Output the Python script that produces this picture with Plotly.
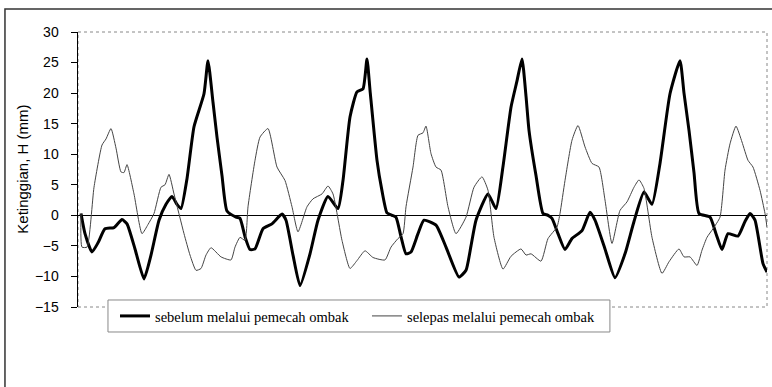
import plotly.graph_objects as go

# time axis (arbitrary units along the record)
t_sebelum = [3, 7, 14, 20, 27, 36, 44, 49, 57, 66, 73, 81, 88, 94, 99, 103, 109, 116, 126, 130, 135, 139, 144, 149,
             158, 162, 167, 172, 177, 185, 194, 204, 208, 215, 222, 232, 240, 250, 260, 265, 272, 279, 285, 289, 292,
             299, 304, 309, 314, 318, 323, 328, 333, 340, 346, 358, 368, 381, 388, 393, 398, 410, 418, 425, 433, 439,
             444, 448, 451, 458, 465, 470, 474, 480, 487, 494, 504, 512, 517, 527, 537, 547, 556, 566, 574, 582, 592,
             602, 606, 611, 616, 621, 632, 638, 644, 650, 660, 667, 672, 677, 685, 689]
h_sebelum = [0.3, -3.0, -6.0, -4.5, -2.2, -2.0, -0.7, -1.4, -5.5, -10.4, -6.5, -0.8, 1.8, 3.1, 1.8, 1.1, 6.0, 14.5,
             19.9, 25.3, 18.5, 12.8, 6.5, 0.7, -0.3, -0.5, -3.5, -5.6, -5.5, -2.2, -1.4, 0.2, -0.8, -6.5, -11.5, -6.3,
             -0.8, 3.1, 1.1, 5.7, 16.1, 20.2, 20.7, 25.6, 20.5, 9.0, 4.0, 0.4, 0.0, -0.3, -3.5, -6.3, -6.0, -3.0, -0.8,
             -1.6, -5.2, -10.1, -9.0, -5.0, -0.8, 3.5, 1.1, 8.0, 17.7, 22.0, 25.6, 19.5, 13.9, 6.5, 0.3, 0.0, -0.5,
             -3.0, -5.6, -3.8, -2.5, 0.5, -0.8, -5.5, -10.2, -6.3, -1.0, 3.8, 1.8, 8.5, 19.9, 25.3, 20.0, 13.9, 7.0,
             0.3, -0.3, -3.0, -5.6, -3.0, -3.4, -1.0, 0.3, -0.8, -7.9, -9.3]

t_selepas = [3, 4, 9, 16, 24, 28, 33, 38, 43, 46, 49, 56, 64, 70, 76, 83, 87, 91, 96, 106, 112, 118, 123, 128, 133,
             143, 153, 157, 162, 167, 170, 177, 182, 190, 199, 207, 214, 220, 229, 235, 244, 250, 255, 264, 272, 279,
             287, 295, 307, 313, 320, 325, 328, 335, 340, 345, 348, 353, 358, 363, 370, 378, 388, 396, 404, 410, 416,
             425, 433, 443, 448, 453, 463, 470, 479, 482, 487, 494, 500, 507, 514, 521, 527, 534, 542, 549, 556, 561,
             566, 574, 584, 591, 601, 606, 612, 619, 624, 629, 635, 642, 647, 652, 658, 664, 670, 675, 682, 687, 689]
h_selepas = [0.3, -5.2, -5.2, 4.6, 11.5, 12.5, 14.2, 11.0, 7.1, 7.0, 8.3, 3.5, -3.0, -1.5, 0.3, 4.6, 5.0, 6.7, 3.5,
             -3.0, -6.5, -9.0, -8.7, -6.5, -5.3, -6.8, -7.3, -5.2, -3.6, -4.1, 1.4, 9.0, 12.8, 14.2, 7.9, 5.7, 1.4,
             -2.7, 1.4, 2.7, 3.5, 4.8, 3.5, -4.1, -8.7, -7.4, -5.8, -6.9, -7.3, -5.2, -3.8, -3.0, 1.4, 7.9, 13.1,
             13.5, 14.6, 10.1, 7.9, 7.4, 1.4, -3.0, -0.3, 4.6, 6.3, 4.1, -3.6, -8.8, -6.7, -5.5, -6.5, -6.3, -7.5,
             -3.8, -1.9, 0.3, 5.7, 12.3, 14.7, 11.2, 8.5, 7.9, 2.5, -4.6, 0.8, 2.2, 4.6, 5.8, 4.4, -3.6, -9.5, -7.6,
             -5.5, -6.8, -6.8, -8.2, -5.7, -3.6, -2.2, -0.3, 7.4, 11.7, 14.6, 12.0, 9.0, 7.9, 4.1, 0.3, -1.9]

y_ticks = [-15, -10, -5, 0, 5, 10, 15, 20, 25, 30]
y_label = "Ketinggian, H (mm)"
name_sebelum = "sebelum melalui pemecah ombak"
name_selepas = "selepas melalui pemecah ombak"

fig = go.Figure()
fig.add_trace(go.Scatter(x=t_sebelum, y=h_sebelum, mode="lines", name=name_sebelum,
                         line=dict(color="#000000", width=3, shape="spline", smoothing=0.5)))
fig.add_trace(go.Scatter(x=t_selepas, y=h_selepas, mode="lines", name=name_selepas,
                         line=dict(color="#444444", width=1, shape="spline", smoothing=0.5)))

fig.update_layout(
    width=772, height=387,
    margin=dict(l=78, r=5, t=32, b=80, autoexpand=False),
    paper_bgcolor="white", plot_bgcolor="white",
    showlegend=True,
    legend=dict(orientation="h", x=0.0537, y=-0.0327, xanchor="left", yanchor="middle",
                font=dict(family="Liberation Serif", size=14.5, color="#000000"),
                bgcolor="rgba(0,0,0,0)", borderwidth=0,
                entrywidth=207, tracegroupgap=0),
    xaxis=dict(visible=False, range=[0, 689], automargin=False),
    yaxis=dict(range=[-15, 30], tickvals=y_ticks, showgrid=False, automargin=False,
               showline=True, linecolor="#000000", linewidth=1.5,
               ticks="outside", ticklen=6, tickcolor="#000000", tickwidth=1,
               ticklabelstandoff=9,
               tickfont=dict(family="Liberation Sans", size=14, color="#000000"),
               zeroline=True, zerolinecolor="#000000", zerolinewidth=1),
    annotations=[dict(text=y_label, xref="paper", yref="paper", x=-0.081, y=0.5,
                      textangle=-90, showarrow=False, xanchor="center", yanchor="middle",
                      font=dict(family="Liberation Sans", size=15, color="#000000"))],
    shapes=[
        dict(type="rect", xref="paper", yref="paper", x0=0, x1=1, y0=0, y1=1,
             line=dict(color="#888888", width=1, dash="dot"), layer="below"),
        dict(type="rect", xref="paper", yref="paper", x0=-0.106, x1=1.012, y0=-0.32, y1=1.0836,
             line=dict(color="#333333", width=1.5), layer="below"),
        dict(type="rect", xref="paper", yref="paper", x0=0.0435, x1=0.772, y0=-0.0909, y1=0.0255,
             line=dict(color="#888888", width=1), fillcolor="white", layer="above"),
    ],
)

fig.write_html("out.html",
               config={"displayModeBar": False, "staticPlot": True},
               post_script="document.body.style.margin='0';document.body.style.padding='0';"
                           "document.documentElement.style.overflow='hidden';")
